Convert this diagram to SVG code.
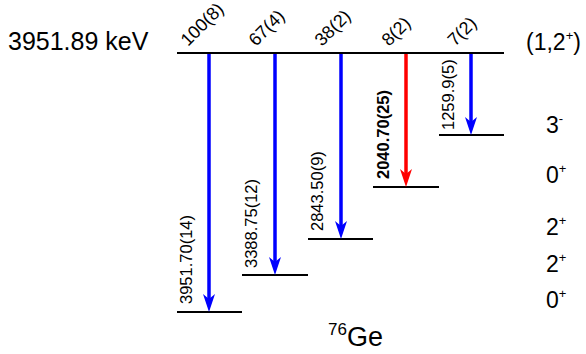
<svg xmlns="http://www.w3.org/2000/svg" width="586" height="354" viewBox="0 0 586 354">
<defs>
<style>
text{font-family:"Liberation Sans",Arial,sans-serif;fill:#000}
.big{font-size:25px}
.lab{font-size:23px}
.sup{font-size:13px}
.rot{font-size:16.5px}
.int{font-size:18px}
.lvl{stroke:#000;stroke-width:2;fill:none}
.blue{stroke:#0000ff;stroke-width:3.5;fill:none}
.red{stroke:#ff0000;stroke-width:3.5;fill:none}
</style>
<marker id="hb" viewBox="0 -6 18 12" refX="6" refY="0" markerWidth="18" markerHeight="12" markerUnits="userSpaceOnUse" orient="auto">
<path d="M0,-6 L18,0 L0,6 L5,0 Z" fill="#0000ff"/>
</marker>
<marker id="hr" viewBox="0 -6 18 12" refX="6" refY="0" markerWidth="18" markerHeight="12" markerUnits="userSpaceOnUse" orient="auto">
<path d="M0,-6 L18,0 L0,6 L5,0 Z" fill="#ff0000"/>
</marker>
</defs>
<rect width="586" height="354" fill="#fff"/>

<g id="level-initial">
<line class="lvl" x1="177" y1="53" x2="504" y2="53"/>
<text class="big" x="8" y="50">3951.89 keV</text>
<text class="lab" x="526" y="50">(1,2<tspan class="sup" dy="-10">+</tspan><tspan dy="10">)</tspan></text>
<text class="int" transform="translate(188,47) rotate(-45)">100(8)</text>
<text class="int" transform="translate(256,47) rotate(-45)">67(4)</text>
<text class="int" transform="translate(322,47) rotate(-45)">38(2)</text>
<text class="int" transform="translate(389,47) rotate(-45)">8(2)</text>
<text class="int" transform="translate(455,47) rotate(-45)">7(2)</text>
</g>

<g id="level-3minus">
<line class="lvl" x1="439" y1="135" x2="504" y2="135"/>
<text class="lab" x="546" y="133">3<tspan class="sup" dy="-10">-</tspan></text>
</g>
<g id="level-0plus-b">
<line class="lvl" x1="373" y1="187" x2="439" y2="187"/>
<text class="lab" x="546" y="183">0<tspan class="sup" dy="-10">+</tspan></text>
</g>
<g id="level-2plus-b">
<line class="lvl" x1="308" y1="239" x2="373" y2="239"/>
<text class="lab" x="546" y="235">2<tspan class="sup" dy="-10">+</tspan></text>
</g>
<g id="level-2plus-a">
<line class="lvl" x1="242" y1="275" x2="308" y2="275"/>
<text class="lab" x="546" y="272">2<tspan class="sup" dy="-10">+</tspan></text>
</g>
<g id="level-ground">
<line class="lvl" x1="177" y1="312" x2="242" y2="312"/>
<text class="lab" x="546" y="308">0<tspan class="sup" dy="-10">+</tspan></text>
</g>

<g id="connectors">
<line class="blue" x1="209" y1="54" x2="209" y2="300" marker-end="url(#hb)"/>
<line class="blue" x1="275" y1="54" x2="275" y2="263" marker-end="url(#hb)"/>
<line class="blue" x1="341" y1="54" x2="341" y2="227" marker-end="url(#hb)"/>
<line class="red" x1="406" y1="54" x2="406" y2="175" marker-end="url(#hr)"/>
<line class="blue" x1="471" y1="54" x2="471" y2="123" marker-end="url(#hb)"/>
<text class="rot" transform="translate(192,304) rotate(-90)">3951.70(14)</text>
<text class="rot" transform="translate(257,268) rotate(-90)">3388.75(12)</text>
<text class="rot" transform="translate(323,231) rotate(-90)">2843.50(9)</text>
<text class="rot" transform="translate(389,179) rotate(-90)" font-weight="bold">2040.70(25)</text>
<text class="rot" transform="translate(454,130) rotate(-90)">1259.9(5)</text>
</g>

<g id="nucleus">
<text style="font-size:27px" x="328" y="346"><tspan font-size="17" dy="-11">76</tspan><tspan dy="11">Ge</tspan></text>
</g>
</svg>
